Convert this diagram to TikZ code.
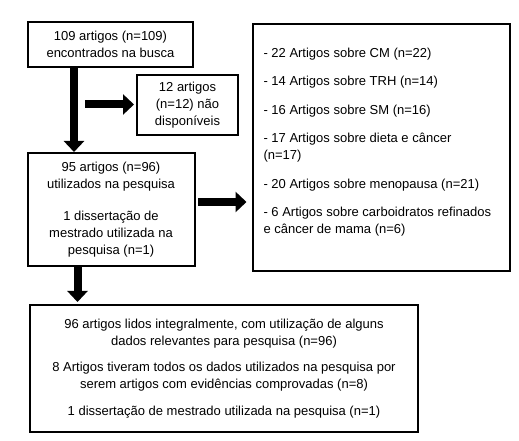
\documentclass[tikz,border=0pt]{standalone}
\usepackage{fontspec}
\setmainfont{Liberation Sans}
\usetikzlibrary{arrows.meta}
\begin{document}
\begin{tikzpicture}[x=0.75pt,y=-0.75pt,
  caixa/.style={draw, line width=1.5pt, align=center, inner sep=0pt,
    font=\fontsize{9.75}{12.75}\selectfont},
  seta/.style={line width=6pt, -{Triangle[length=8.25pt,width=15pt]}}]

 \useasboundingbox (0,0) rectangle (519,441);

 % caixas da esquerda
 \node[caixa, minimum width=123.75pt, minimum height=33.75pt] (busca) at (110.5,44.5)
   {109 artigos (n=109)\\encontrados na busca};
 \node[caixa, minimum width=75.75pt, minimum height=45pt] (indisp) at (187.5,105)
   {12 artigos\\(n=12) não\\disponíveis};
 \node[caixa, minimum width=125.25pt, minimum height=84.75pt] (pesquisa) at (111,209.5)
   {95 artigos (n=96)\\utilizados na pesquisa\\[11pt]1 dissertação de\\mestrado utilizada na\\pesquisa (n=1)};

 % caixa da direita
 \node[caixa, anchor=north west] (temas) at (251.5,23)
   {\parbox[t][185.25pt][t]{193pt}{\raggedright\leftskip=8.25pt\rightskip=-15pt plus 1fil
     \vspace*{18pt}%
     - 22 Artigos sobre CM (n=22)\\[8.6pt]
     - 14 Artigos sobre TRH (n=14)\\[8.6pt]
     - 16 Artigos sobre SM (n=16)\\[8.6pt]
     - 17 Artigos sobre dieta e câncer\\(n=17)\\[8.6pt]
     - 20 Artigos sobre menopausa (n=21)\\[8.6pt]
     - 6 Artigos sobre carboidratos refinados\\e câncer de mama (n=6)}};

 % caixa de baixo
 \node[caixa, minimum width=291pt, minimum height=95.25pt] (lidos) at (224,368.5)
   {96 artigos lidos integralmente, com utilização de alguns\\dados relevantes para pesquisa (n=96)\\[7pt]
    8 Artigos tiveram todos os dados utilizados na pesquisa por\\serem artigos com evidências comprovadas (n=8)\\[7pt]
    1 dissertação de mestrado utilizada na pesquisa (n=1)};

 % setas
 \coordinate (v1) at (74,0);
 \coordinate (v2) at (77.5,0);
 \coordinate (h1) at (85,104.5);
 \coordinate (h2) at (198,202);
 \draw[seta] (busca.south -| v1) -- (pesquisa.north -| v1);
 \draw[seta, shorten >=1.5pt] (h1) -- (h1 -| indisp.west);
 \draw[seta, shorten >=3.75pt] (h2) -- (h2 -| temas.west);
 \draw[seta, shorten >=1.5pt] (pesquisa.south -| v2) -- (lidos.north -| v2);

\end{tikzpicture}
\end{document}
